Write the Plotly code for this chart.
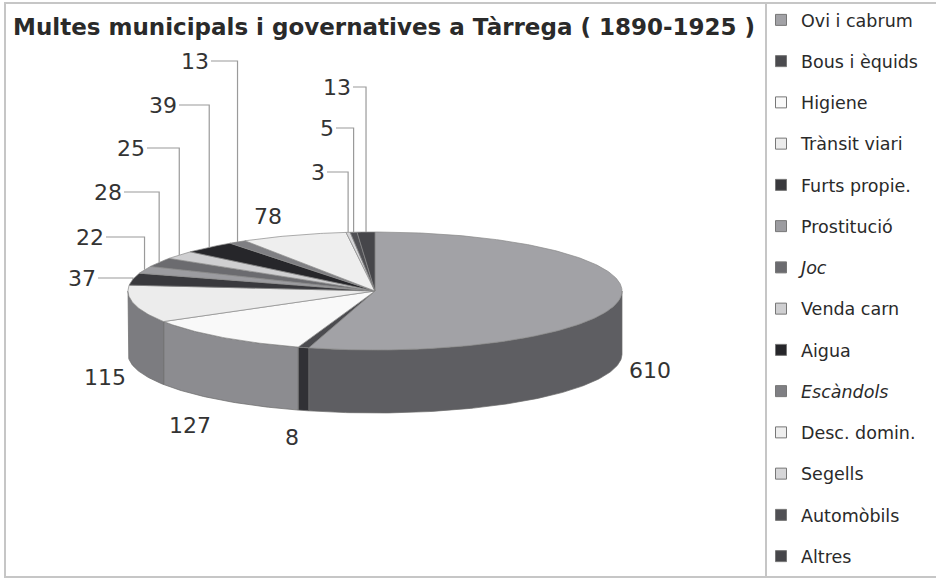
import numpy as np
import plotly.graph_objects as go

# ---------------- data ----------------
categories = ["Ovi i cabrum", "Bous i èquids", "Higiene", "Trànsit viari",
              "Furts propie.", "Prostitució", "Joc", "Venda carn", "Aigua",
              "Escàndols", "Desc. domin.", "Segells", "Automòbils", "Altres"]
values = [610, 8, 127, 115, 37, 22, 28, 25, 39, 13, 78, 3, 5, 13]
title_text = "Multes municipals i governatives a Tàrrega ( 1890-1925 )"

# ---------------- style ----------------
italic = {"Joc", "Escàndols"}
top_colors = ["#a2a2a6", "#4b4b4f", "#f9f9f9", "#ececec", "#39393d", "#9c9ca0",
              "#6b6b6f", "#cfcfd1", "#26262a", "#7f7f83", "#eeeeee", "#d6d6d8",
              "#505054", "#46464a"]
side_colors = ["#5e5e62", "#313135", "#8c8c90", "#7c7c80", "#28282c", "#6a6a6e",
               "#48484c", "#8e8e90", "#18181a", "#58585c", "#a0a0a0", "#909092",
               "#37373a", "#303034"]
FONT = "DejaVu Sans"
W, H = 936, 579
CX, CY, RX, RY, DEPTH = 375, 291, 247, 59, 63
# label placement (pixel layout) and whether a leader line is drawn
label_pos = [(650, 370), (292, 437), (190, 425), (105, 377), (82, 278), (90, 237),
             (108, 192), (131, 148), (163, 105), (195, 61), (268, 216), (318, 172),
             (327, 128), (337, 87)]
leader = [False, False, False, False, True, True, True, True, True, True, False,
          True, True, True]
LBL_SIZE = 22

def px(t):
    return CX + RX * np.sin(t)

def py(t):
    return CY - RY * np.cos(t)

fig = go.Figure()

vals = np.array(values, dtype=float)
total = vals.sum()
ends = np.cumsum(vals) / total * 2 * np.pi
starts = np.concatenate([[0.0], ends[:-1]])

# side walls (front half only)
for i in range(len(values)):
    lo = max(starts[i], np.pi / 2)
    hi = min(ends[i], 3 * np.pi / 2)
    if hi <= lo:
        continue
    t = np.linspace(lo, hi, max(3, int((hi - lo) * 80)))
    xs = np.concatenate([px(t), px(t[::-1])])
    ys = np.concatenate([py(t), py(t[::-1]) + DEPTH])
    fig.add_trace(go.Scatter(x=np.append(xs, xs[0]), y=np.append(ys, ys[0]),
                             mode="lines", fill="toself", fillcolor=side_colors[i],
                             line=dict(color="#6a6a6a", width=0.7),
                             hoverinfo="skip", showlegend=False))

# top faces
for i in range(len(values)):
    t = np.linspace(starts[i], ends[i], max(3, int((ends[i] - starts[i]) * 80)))
    xs = np.concatenate([[CX], px(t), [CX]])
    ys = np.concatenate([[CY], py(t), [CY]])
    fig.add_trace(go.Scatter(x=xs, y=ys, mode="lines", fill="toself",
                             fillcolor=top_colors[i],
                             line=dict(color="#8a8a8a", width=0.7),
                             hoverinfo="skip", showlegend=False))

# labels and leader lines
for i, v in enumerate(values):
    lx, ly = label_pos[i]
    txt = str(v)
    fig.add_annotation(x=lx, y=ly, xref="x", yref="y", text=txt, showarrow=False,
                       font=dict(family=FONT, size=LBL_SIZE, color="#333333"),
                       xanchor="center", yanchor="middle")
    if leader[i]:
        mid = (starts[i] + ends[i]) / 2
        ax, ay = px(mid), py(mid)
        half = len(txt) * 0.636 * LBL_SIZE / 2
        x0 = lx + half + 2
        fig.add_trace(go.Scatter(x=[x0, ax, ax], y=[ly, ly, ay], mode="lines",
                                 line=dict(color="#9a9a9a", width=1.2),
                                 hoverinfo="skip", showlegend=False))

# legend entries
for i, name in enumerate(categories):
    label = f"<i>{name}</i>" if name in italic else name
    fig.add_trace(go.Scatter(x=[None], y=[None], mode="markers", name=label,
                             legendgroup=str(i),
                             marker=dict(symbol="square", size=11, color=top_colors[i],
                                         line=dict(color="#777777", width=1))))

# title
fig.add_annotation(x=11, y=27, xref="x", yref="y", text=f"<b>{title_text}</b>",
                   showarrow=False, xanchor="left", yanchor="middle",
                   font=dict(family=FONT, size=23, color="#2a2a2a"))

# frame and divider
fig.add_shape(type="rect", xref="x", yref="y", x0=5, y0=3, x1=940, y1=577,
              line=dict(color="#c6c6c6", width=2), layer="below")
fig.add_shape(type="line", xref="x", yref="y", x0=766, y0=3, x1=766, y1=577,
              line=dict(color="#c6c6c6", width=2), layer="below")

fig.update_layout(
    width=W, height=H,
    margin=dict(l=0, r=0, t=0, b=0),
    paper_bgcolor="white", plot_bgcolor="white",
    xaxis=dict(range=[0, W], visible=False, fixedrange=True),
    yaxis=dict(range=[H, 0], visible=False, fixedrange=True),
    legend=dict(x=761 / W, y=1 - 2 / H, xanchor="left", yanchor="top",
                font=dict(family=FONT, size=17.5, color="#2a2a2a"),
                tracegroupgap=15.5, bgcolor="rgba(0,0,0,0)", itemclick=False),
    showlegend=True,
)

fig.write_html("out.html",
               config={"displayModeBar": False, "staticPlot": True},
               post_script="document.body.style.margin='0';document.body.style.overflow='hidden';")
